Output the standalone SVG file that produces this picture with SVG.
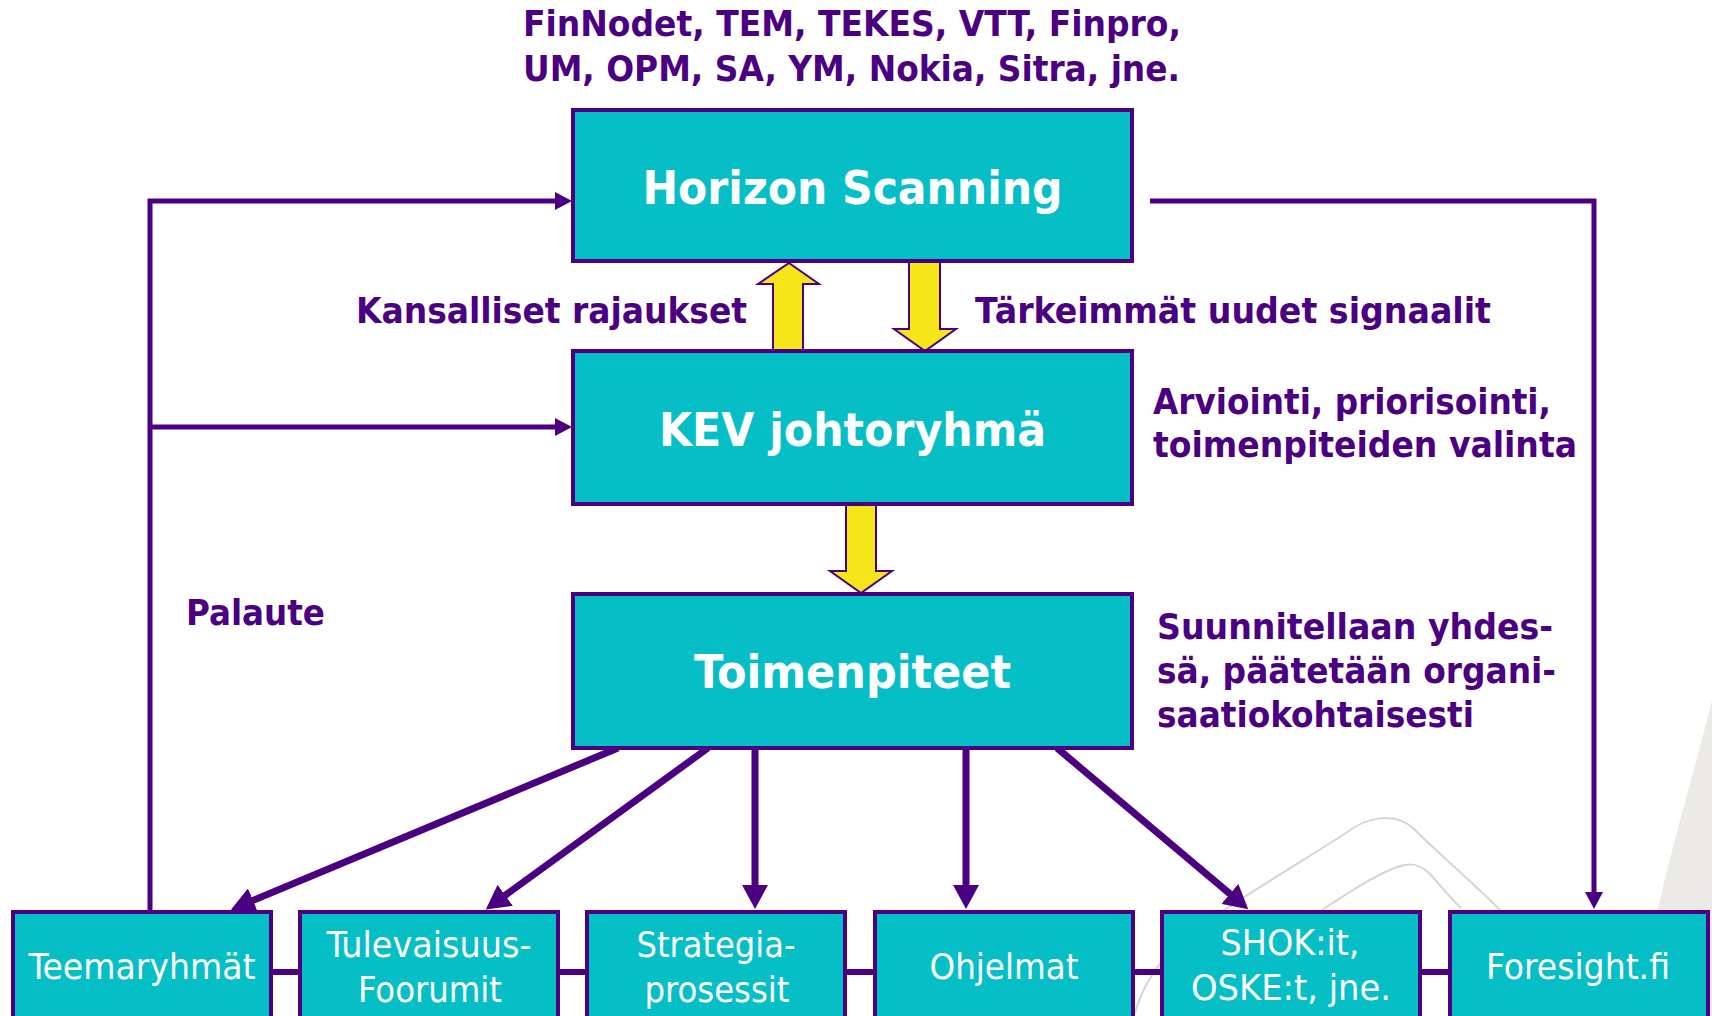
<svg xmlns="http://www.w3.org/2000/svg" width="1712" height="1016" viewBox="0 0 1712 1016">
<defs>
<style>
.box{fill:#05BEC6;stroke:#4B0082;stroke-width:4}
.title{font-family:"DejaVu Sans Condensed","DejaVu Sans",sans-serif;font-weight:bold;fill:#FFFFFF;text-anchor:middle}
.sub{font-family:"DejaVu Sans Condensed","DejaVu Sans",sans-serif;font-size:35px;fill:#FFFFFF;text-anchor:middle}
.lbl{font-family:"DejaVu Sans Condensed","DejaVu Sans",sans-serif;font-weight:bold;font-size:35px;fill:#4B0082}
.thin{fill:none;stroke:#4B0082;stroke-width:5}
.thick{fill:none;stroke:#4B0082;stroke-width:7}
.link{fill:none;stroke:#4B0082;stroke-width:6}
.yarrow{fill:#F4E618;stroke:#4B0082;stroke-width:2}
.deco{fill:none;stroke:#D9D5CD;stroke-width:2}
</style>
<marker id="ahThin" markerUnits="userSpaceOnUse" markerWidth="18" markerHeight="18" refX="1" refY="9" orient="auto">
<path d="M0,0 L17,9 L0,18 Z" fill="#4B0082"/>
</marker>
<marker id="ahThick" markerUnits="userSpaceOnUse" markerWidth="26" markerHeight="26" refX="1" refY="13" orient="auto">
<path d="M0,0 L24,13 L0,26 Z" fill="#4B0082"/>
</marker>
</defs>
<rect x="0" y="0" width="1712" height="1016" fill="#FFFFFF"/>
<g id="background">
<path d="M1712,700 C1690,790 1660,880 1636,1016 L1712,1016 Z" fill="#ECEAE6"/>
<path class="deco" d="M1135,1013 C1150,960 1190,930 1229,907 C1270,880 1320,850 1346,833 C1365,818 1395,810 1415,830 C1440,855 1470,880 1500,910"/>
<path class="deco" d="M1322,910 C1345,895 1375,875 1397,867 C1410,862 1420,864 1430,874 C1440,885 1450,898 1461,908"/>
</g>
<g id="connectors">
<path class="link" d="M271,972 H1450"/>
<path class="thin" d="M150,912 V201 H556" marker-end="url(#ahThin)"/>
<path class="thin" d="M150,427 H556" marker-end="url(#ahThin)"/>
<path class="thin" d="M1150,201 H1594 V893" marker-end="url(#ahThin)"/>
<path class="thick" d="M618,748 L252.1,900.8" marker-end="url(#ahThick)"/>
<path class="thick" d="M708,748 L504.4,895.9" marker-end="url(#ahThick)"/>
<path class="thick" d="M755,748 V886" marker-end="url(#ahThick)"/>
<path class="thick" d="M966,748 V886" marker-end="url(#ahThick)"/>
<path class="thick" d="M1057,748 L1230.7,894.5" marker-end="url(#ahThick)"/>
<polygon class="yarrow" points="789,263 819,284 803,284 803,351 773,351 773,284 758,284"/>
<polygon class="yarrow" points="909,262 940,262 940,329 956,329 925,351 894,329 909,329"/>
<polygon class="yarrow" points="846,504 876,504 876,571 892,571 861,593 830,571 846,571"/>
</g>
<g id="horizon">
<rect class="box" x="573" y="110" width="559" height="151"/>
<text class="title" x="852.5" y="204" font-size="46" textLength="420" lengthAdjust="spacingAndGlyphs">Horizon Scanning</text>
</g>
<g id="kev">
<rect class="box" x="573" y="351" width="559" height="153"/>
<text class="title" x="852.5" y="446" font-size="46" textLength="387" lengthAdjust="spacingAndGlyphs">KEV johtoryhmä</text>
</g>
<g id="toimenpiteet">
<rect class="box" x="573" y="594" width="559" height="154"/>
<text class="title" x="852.5" y="688" font-size="46" textLength="317" lengthAdjust="spacingAndGlyphs">Toimenpiteet</text>
</g>
<g id="teemaryhmat">
<rect class="box" x="13" y="912" width="258" height="110"/>
<text class="sub" x="142" y="979" textLength="227" lengthAdjust="spacingAndGlyphs">Teemaryhmät</text>
</g>
<g id="tulevaisuus">
<rect class="box" x="300" y="912" width="258" height="110"/>
<text class="sub" x="429" y="957" textLength="205" lengthAdjust="spacingAndGlyphs">Tulevaisuus-</text>
<text class="sub" x="430" y="1002" textLength="144" lengthAdjust="spacingAndGlyphs">Foorumit</text>
</g>
<g id="strategia">
<rect class="box" x="587" y="912" width="258" height="110"/>
<text class="sub" x="716" y="957" textLength="159" lengthAdjust="spacingAndGlyphs">Strategia-</text>
<text class="sub" x="717" y="1002" textLength="145" lengthAdjust="spacingAndGlyphs">prosessit</text>
</g>
<g id="ohjelmat">
<rect class="box" x="875" y="912" width="258" height="110"/>
<text class="sub" x="1004" y="979" textLength="149" lengthAdjust="spacingAndGlyphs">Ohjelmat</text>
</g>
<g id="shok">
<rect class="box" x="1162" y="912" width="258" height="110"/>
<text class="sub" x="1290" y="955" textLength="139" lengthAdjust="spacingAndGlyphs">SHOK:it,</text>
<text class="sub" x="1291" y="1000" textLength="200" lengthAdjust="spacingAndGlyphs">OSKE:t, jne.</text>
</g>
<g id="foresight">
<rect class="box" x="1450" y="912" width="258" height="110"/>
<text class="sub" x="1578" y="979" textLength="184" lengthAdjust="spacingAndGlyphs">Foresight.fi</text>
</g>
<g id="labels">
<text class="lbl" x="523" y="36" textLength="658" lengthAdjust="spacingAndGlyphs">FinNodet, TEM, TEKES, VTT, Finpro,</text>
<text class="lbl" x="523" y="81" textLength="657" lengthAdjust="spacingAndGlyphs">UM, OPM, SA, YM, Nokia, Sitra, jne.</text>
<text class="lbl" x="356" y="323" textLength="391" lengthAdjust="spacingAndGlyphs">Kansalliset rajaukset</text>
<text class="lbl" x="975" y="323" textLength="516" lengthAdjust="spacingAndGlyphs">Tärkeimmät uudet signaalit</text>
<text class="lbl" x="1153" y="414" textLength="398" lengthAdjust="spacingAndGlyphs">Arviointi, priorisointi,</text>
<text class="lbl" x="1153" y="457" textLength="424" lengthAdjust="spacingAndGlyphs">toimenpiteiden valinta</text>
<text class="lbl" x="1157" y="639" textLength="396" lengthAdjust="spacingAndGlyphs">Suunnitellaan yhdes-</text>
<text class="lbl" x="1157" y="683" textLength="399" lengthAdjust="spacingAndGlyphs">sä, päätetään organi-</text>
<text class="lbl" x="1157" y="727" textLength="317" lengthAdjust="spacingAndGlyphs">saatiokohtaisesti</text>
<text class="lbl" x="186" y="625" textLength="139" lengthAdjust="spacingAndGlyphs">Palaute</text>
</g>
</svg>
